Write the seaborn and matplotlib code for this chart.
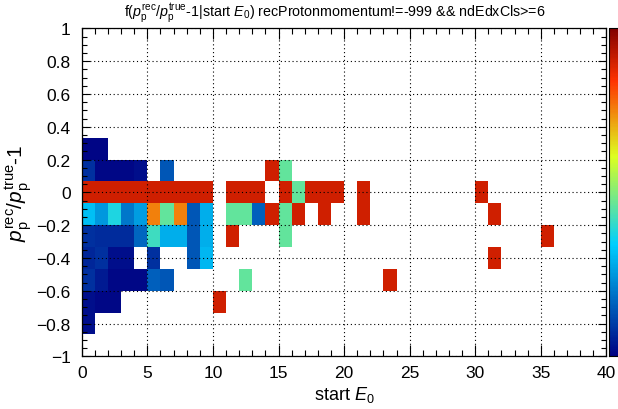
import numpy as np
import pandas as pd
import matplotlib
matplotlib.use("Agg")
import matplotlib.pyplot as plt
import seaborn as sns
from matplotlib.colors import LinearSegmentedColormap
from matplotlib.ticker import MultipleLocator

# ---- data: one entry per filled cell (bin centre in x, bin centre in y, value) ----
start_E0 = ([0.5] * 9 + [1.5] * 8 + [2.5] * 7 + [3.5] * 6 + [4.5] * 5 + [5.5] * 5 +
            [6.5] * 5 + [7.5] * 3 + [8.5] * 4 + [9.5] * 4 + [10.5] + [11.5] * 3 +
            [12.5] * 3 + [13.5] * 2 + [14.5] * 2 + [15.5] * 4 + [16.5] * 2 + [17.5] +
            [18.5] * 2 + [19.5] + [21.5] * 2 + [23.5] + [30.5] + [31.5] * 2 + [35.5])
residual = [
    0.267, 0.133, 0, -0.133, -0.267, -0.4, -0.533, -0.667, -0.8,
    0.267, 0.133, 0, -0.133, -0.267, -0.4, -0.533, -0.667,
    0.133, 0, -0.133, -0.267, -0.4, -0.533, -0.667,
    0.133, 0, -0.133, -0.267, -0.4, -0.533,
    0.133, 0, -0.133, -0.267, -0.533,
    0, -0.133, -0.267, -0.4, -0.533,
    0.133, 0, -0.133, -0.267, -0.533,
    0, -0.133, -0.267,
    0, -0.133, -0.267, -0.4,
    0, -0.133, -0.267, -0.4,
    -0.667,
    0, -0.133, -0.267,
    0, -0.133, -0.533,
    0, -0.133,
    0.133, -0.133,
    0.133, 0, -0.133, -0.267,
    0, -0.133,
    0,
    0, -0.133,
    0,
    0, -0.133,
    -0.533,
    0,
    -0.133, -0.4,
    -0.267,
]
f_value = [
    0.01, 0.088, 1, 0.35, 0.088, 0.073, 0.088, 0.03, 0.03,
    0.01, 0.015, 1, 0.28, 0.08, 0.088, 0.048, 0.015,
    0.015, 1, 0.42, 0.08, 0.03, 0.015, 0.015,
    0.015, 1, 0.22, 0.08, 0.03, 0.015,
    0.03, 1, 0.29, 0.19, 0.015,
    1, 0.836, 0.46, 0.088, 0.175,
    0.16, 1, 0.51, 0.32, 0.16,
    1, 0.836, 0.32,
    1, 0.16, 0.16, 0.16,
    1, 0.32, 0.32, 0.336,
    1,
    1, 0.51, 1,
    1, 0.51, 0.51,
    1, 0.175,
    1, 1,
    0.51, 1, 0.51, 0.51,
    0.51, 1,
    1,
    1, 1,
    1,
    1, 1,
    1,
    1,
    1, 1,
    1,
]
x_ticks = [0, 5, 10, 15, 20, 25, 30, 35, 40]
y_ticks = [-1, -0.8, -0.6, -0.4, -0.2, 0, 0.2, 0.4, 0.6, 0.8, 1]

df = pd.DataFrame({"start_E0": start_E0, "residual": residual, "f": f_value})

# ---- style ----
plt.rcParams["font.family"] = ["Liberation Sans", "DejaVu Sans"]
plt.rcParams["mathtext.fontset"] = "custom"
plt.rcParams["mathtext.rm"] = "Liberation Sans"
plt.rcParams["mathtext.it"] = "Liberation Sans:italic"
plt.rcParams["mathtext.bf"] = "Liberation Sans:bold"

cmap = LinearSegmentedColormap.from_list(
    "rootrainbow",
    [(0.0, (0.0, 0.0, 0.51)), (0.34, (0.0, 0.81, 1.0)), (0.61, (0.87, 1.0, 0.12)),
     (0.84, (1.0, 0.2, 0.0)), (1.0, (0.51, 0.0, 0.0))])

fig = plt.figure(figsize=(6.18, 4.10), dpi=100)
ax = fig.add_axes([0.1324, 0.1285, 0.8487, 0.80])
cax = fig.add_axes([0.9854, 0.1285, 0.05, 0.80])

sns.histplot(data=df, x="start_E0", y="residual", weights="f",
             bins=(40, 15), binrange=((0, 40), (-1, 1)),
             cmap=cmap, cbar=True, cbar_ax=cax, ax=ax)
mesh = ax.collections[0]
mesh.set_clim(0, 1.11)

ax.set_xlim(0, 40)
ax.set_ylim(-1, 1)
ax.set_xticks(x_ticks)
ax.set_yticks(y_ticks)
ax.set_xticklabels([str(t) for t in x_ticks])
ax.set_yticklabels([f"{t:g}".replace("-", "\u2212") for t in y_ticks])
ax.xaxis.set_minor_locator(MultipleLocator(1))
ax.yaxis.set_minor_locator(MultipleLocator(0.05))
ax.tick_params(which="both", direction="in", top=True, right=True, labelsize=12.5)
ax.tick_params(axis="x", which="major", length=8, width=0.8, pad=6)
ax.tick_params(axis="x", which="minor", length=4, width=0.8)
ax.tick_params(axis="y", which="major", length=6, width=0.8, pad=8)
ax.tick_params(axis="y", which="minor", length=3.5, width=0.8)
for s in ax.spines.values():
    s.set_linewidth(0.9)

ax.set_axisbelow(False)
ax.grid(True, which="major", linestyle=(0, (1, 2.5)), color="black", linewidth=0.8)

ax.set_xlabel("start $E_{0}$", fontsize=13, labelpad=3)
ax.set_ylabel(r"$p_{\mathrm{p}}^{\mathrm{rec}}/p_{\mathrm{p}}^{\mathrm{true}}$-1", fontsize=15, labelpad=2)

cax.set_yticks([])
cax.set_xticks([])

fig.text(0.542, 0.968,
         r"f($p_{\mathrm{p}}^{\mathrm{rec}}/p_{\mathrm{p}}^{\mathrm{true}}$-1|start $E_{0}$) recProtonmomentum!=-999 && ndEdxCls>=6",
         ha="center", va="center", fontsize=10.3)

fig.savefig("out.png", dpi=100)
